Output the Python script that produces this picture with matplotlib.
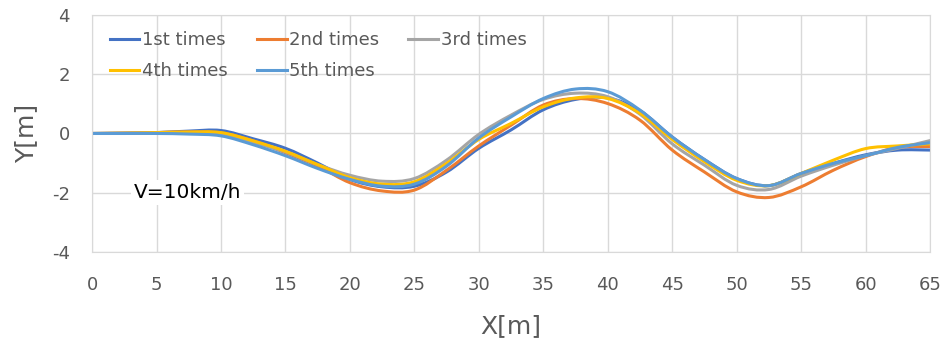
import matplotlib
matplotlib.use("Agg")
import matplotlib.pyplot as plt
from matplotlib.path import Path
from matplotlib.patches import PathPatch
from matplotlib.lines import Line2D

plt.rcParams['axes.unicode_minus'] = False

# data
x = [0, 2.5, 5, 7.5, 10, 12.5, 15, 17.5, 20, 22.5, 25, 27.5, 30, 32.5, 35,
     37.5, 40, 42.5, 45, 47.5, 50, 52.5, 55, 57.5, 60, 62.5, 65]
y1 = [0, 0.01, 0.03, 0.08, 0.1, -0.18, -0.5, -1.0, -1.55, -1.8, -1.78, -1.3, -0.5, 0.12, 0.8,
      1.15, 1.2, 0.77, -0.12, -0.88, -1.52, -1.76, -1.35, -1.01, -0.72, -0.56, -0.56]
y2 = [0, 0.01, 0.03, 0.05, 0.02, -0.25, -0.65, -1.1, -1.66, -1.94, -1.91, -1.24, -0.42, 0.28, 0.96,
      1.18, 1.01, 0.45, -0.56, -1.3, -1.97, -2.16, -1.8, -1.24, -0.78, -0.47, -0.44]
y3 = [0, 0.01, 0.02, 0.02, 0, -0.3, -0.62, -1.05, -1.41, -1.61, -1.52, -0.9, -0.03, 0.62, 1.15,
      1.36, 1.24, 0.65, -0.35, -1.07, -1.75, -1.89, -1.44, -1.07, -0.75, -0.5, -0.24]
y4 = [0, 0.01, 0.03, 0.05, 0.03, -0.25, -0.6, -1.05, -1.49, -1.71, -1.63, -1.01, -0.2, 0.34, 0.9,
      1.2, 1.18, 0.68, -0.2, -0.95, -1.58, -1.76, -1.35, -0.9, -0.51, -0.42, -0.35]
y5 = [0, 0, 0, -0.02, -0.08, -0.38, -0.75, -1.18, -1.55, -1.78, -1.71, -1.1, -0.15, 0.56, 1.18,
      1.5, 1.41, 0.79, -0.12, -0.88, -1.52, -1.76, -1.35, -1.01, -0.75, -0.47, -0.31]

labels = ['1st times', '2nd times', '3rd times', '4th times', '5th times']
colors = ['#4472C4', '#ED7D31', '#A5A5A5', '#FFC000', '#5B9BD5']


def smooth_path(xs, ys):
    # excel style smoothed line: bezier segments through the points
    n = len(xs)
    verts = [(xs[0], ys[0])]
    codes = [Path.MOVETO]
    for i in range(n - 1):
        i0 = max(i - 1, 0)
        i3 = min(i + 2, n - 1)
        c1 = (xs[i] + (xs[i + 1] - xs[i0]) / 6, ys[i] + (ys[i + 1] - ys[i0]) / 6)
        c2 = (xs[i + 1] - (xs[i3] - xs[i]) / 6, ys[i + 1] - (ys[i3] - ys[i]) / 6)
        verts += [c1, c2, (xs[i + 1], ys[i + 1])]
        codes += [Path.CURVE4] * 3
    return Path(verts, codes)


fig = plt.figure(figsize=(9.45, 3.45), dpi=100)
ax = fig.add_axes([0.0974, 0.2696, 0.8868, 0.687])

handles = []
for yy, lab, c in zip([y1, y2, y3, y4, y5], labels, colors):
    ax.add_patch(PathPatch(smooth_path(x, yy), fill=False, edgecolor=c, lw=2.2,
                           capstyle='round', joinstyle='round'))
    handles.append(Line2D([], [], color=c, lw=2.2, label=lab))

ax.set_xlim(0, 65)
ax.set_ylim(-4, 4)
ax.set_xticks(range(0, 66, 5))
ax.set_yticks(range(-4, 5, 2))
ax.grid(True, color='#D9D9D9', lw=1)
ax.set_axisbelow(True)
for s in ax.spines.values():
    s.set_color('#D9D9D9')
ax.tick_params(length=0, labelsize=13, labelcolor='#595959')
ax.tick_params(axis='x', pad=17)
ax.tick_params(axis='y', pad=16)

ax.set_xlabel('X[m]', fontsize=18, color='#595959', labelpad=15)
ax.set_ylabel('Y[m]', fontsize=18, color='#595959', labelpad=10)

ax.text(7.4, -2.0, 'V=10km/h', fontsize=14.5, color='black', ha='center', va='center',
        bbox=dict(facecolor='white', edgecolor='none', pad=2))

# row-wise order like excel
order = [0, 3, 1, 4, 2]
ax.legend([handles[i] for i in order], [labels[i] for i in order],
          loc='upper left', bbox_to_anchor=(0.021, 0.932), ncol=3, frameon=False,
          fontsize=13, handlelength=1.65, handletextpad=0.15, columnspacing=1.6,
          labelspacing=0.72, borderpad=0, borderaxespad=0, labelcolor='#595959')

fig.savefig('out.png', dpi=100)
